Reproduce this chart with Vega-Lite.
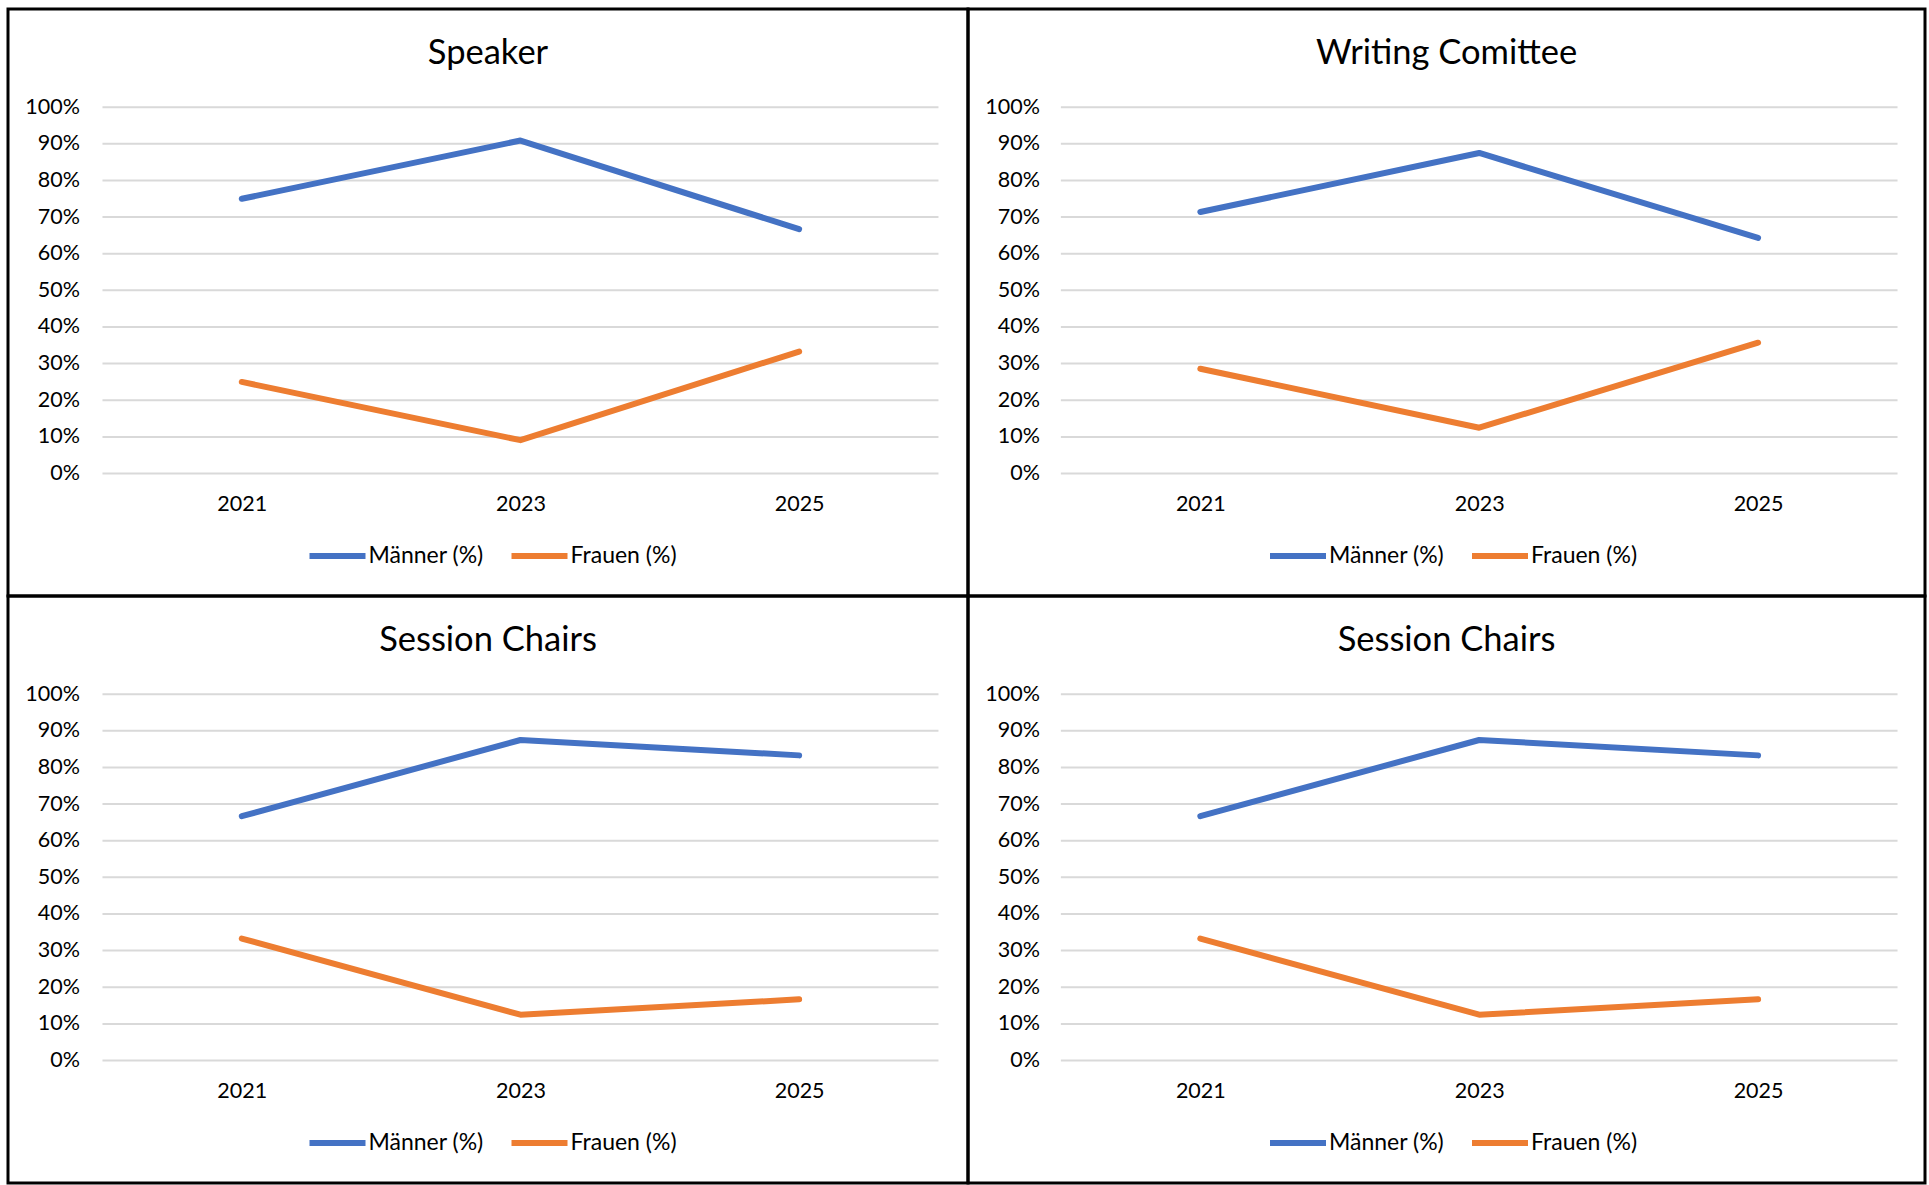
{
  "$schema": "https://vega.github.io/schema/vega-lite/v6.json",
  "background": "white",
  "padding": {"left": 6, "top": 7, "right": 0, "bottom": 0},
  "config": {
    "font": "Lato",
    "view": {"stroke": "black", "strokeWidth": 3},
    "axis": {"labelColor": "black", "labelFontSize": 21.5, "labelFont": "Lato", "domain": false, "ticks": false, "grid": false, "title": null},
    "title": {"frame": "group", "anchor": "middle", "offset": -62, "baseline": "alphabetic", "fontSize": 34.5, "fontWeight": "normal", "color": "black", "font": "Lato"},
    "legend": {"title": null, "orient": "none", "direction": "horizontal", "legendY": 516, "symbolType": "stroke", "symbolSize": 3136, "symbolStrokeWidth": 6, "labelFontSize": 23, "labelColor": "black", "labelOffset": 0, "columnPadding": 24, "labelFont": "Lato"},
    "line": {"strokeWidth": 6, "strokeCap": "round", "strokeJoin": "round"},
    "rule": {"color": "#d9d9d9", "strokeWidth": 2}
  },
  "datasets": {
    "d": [
      {"panel": "A", "year": 2021, "series": "Männer (%)", "value": 0.75},
      {"panel": "A", "year": 2023, "series": "Männer (%)", "value": 0.909},
      {"panel": "A", "year": 2025, "series": "Männer (%)", "value": 0.667},
      {"panel": "A", "year": 2021, "series": "Frauen (%)", "value": 0.25},
      {"panel": "A", "year": 2023, "series": "Frauen (%)", "value": 0.091},
      {"panel": "A", "year": 2025, "series": "Frauen (%)", "value": 0.333},
      {"panel": "B", "year": 2021, "series": "Männer (%)", "value": 0.714},
      {"panel": "B", "year": 2023, "series": "Männer (%)", "value": 0.875},
      {"panel": "B", "year": 2025, "series": "Männer (%)", "value": 0.643},
      {"panel": "B", "year": 2021, "series": "Frauen (%)", "value": 0.286},
      {"panel": "B", "year": 2023, "series": "Frauen (%)", "value": 0.125},
      {"panel": "B", "year": 2025, "series": "Frauen (%)", "value": 0.357},
      {"panel": "C", "year": 2021, "series": "Männer (%)", "value": 0.667},
      {"panel": "C", "year": 2023, "series": "Männer (%)", "value": 0.875},
      {"panel": "C", "year": 2025, "series": "Männer (%)", "value": 0.833},
      {"panel": "C", "year": 2021, "series": "Frauen (%)", "value": 0.333},
      {"panel": "C", "year": 2023, "series": "Frauen (%)", "value": 0.125},
      {"panel": "C", "year": 2025, "series": "Frauen (%)", "value": 0.167},
      {"panel": "D", "year": 2021, "series": "Männer (%)", "value": 0.667},
      {"panel": "D", "year": 2023, "series": "Männer (%)", "value": 0.875},
      {"panel": "D", "year": 2025, "series": "Männer (%)", "value": 0.833},
      {"panel": "D", "year": 2021, "series": "Frauen (%)", "value": 0.333},
      {"panel": "D", "year": 2023, "series": "Frauen (%)", "value": 0.125},
      {"panel": "D", "year": 2025, "series": "Frauen (%)", "value": 0.167}
    ],
    "ticks": [
      {"value": 0}, {"value": 0.1}, {"value": 0.2}, {"value": 0.3}, {"value": 0.4}, {"value": 0.5},
      {"value": 0.6}, {"value": 0.7}, {"value": 0.8}, {"value": 0.9}, {"value": 1}
    ]
  },
  "columns": 2,
  "spacing": 0,
  "bounds": "flush",
  "resolve": {"legend": {"color": "independent"}, "scale": {"color": "independent"}},
  "concat": [
    {
      "width": 960, "height": 587,
      "title": {"text": "Speaker"},
      "layer": [
        {"data": {"name": "ticks"}, "mark": "rule",
         "encoding": {
           "y": {"field": "value", "type": "quantitative", "scale": {"domain": [-0.3344, 1.2681], "nice": false, "zero": false}, "axis": {"orient": "left", "offset": -94.5, "labelPadding": 23, "values": [0,0.1,0.2,0.3,0.4,0.5,0.6,0.7,0.8,0.9,1], "format": ".0%"}},
           "x": {"datum": 2020, "type": "quantitative", "scale": {"domain": [2019.322, 2026.212], "nice": false, "zero": false}, "axis": {"orient": "bottom", "offset": -122.5, "labelPadding": 20, "values": [2021, 2023, 2025], "format": "d"}},
           "x2": {"datum": 2026}
         }},
        {"data": {"name": "d"}, "transform": [{"filter": "datum.panel === 'A'"}],
         "mark": "line",
         "encoding": {
           "x": {"field": "year", "type": "quantitative"},
           "y": {"field": "value", "type": "quantitative"},
           "color": {"field": "series", "type": "nominal", "sort": null, "scale": {"domain": ["Männer (%)", "Frauen (%)"], "range": ["#4472C4", "#ED7D31"]}, "legend": {"legendX": 298.5}}
         }}
      ]
    },
    {
      "width": 957, "height": 587,
      "title": {"text": "Writing Comittee"},
      "layer": [
        {"data": {"name": "ticks"}, "mark": "rule",
         "encoding": {
           "y": {"field": "value", "type": "quantitative", "scale": {"domain": [-0.3344, 1.2681], "nice": false, "zero": false}, "axis": {"orient": "left", "offset": -94.5, "labelPadding": 23, "values": [0,0.1,0.2,0.3,0.4,0.5,0.6,0.7,0.8,0.9,1], "format": ".0%"}},
           "x": {"datum": 2020, "type": "quantitative", "scale": {"domain": [2019.334, 2026.197], "nice": false, "zero": false}, "axis": {"orient": "bottom", "offset": -122.5, "labelPadding": 20, "values": [2021, 2023, 2025], "format": "d"}},
           "x2": {"datum": 2026}
         }},
        {"data": {"name": "d"}, "transform": [{"filter": "datum.panel === 'B'"}],
         "mark": "line",
         "encoding": {
           "x": {"field": "year", "type": "quantitative"},
           "y": {"field": "value", "type": "quantitative"},
           "color": {"field": "series", "type": "nominal", "sort": null, "scale": {"domain": ["Männer (%)", "Frauen (%)"], "range": ["#4472C4", "#ED7D31"]}, "legend": {"legendX": 299}}
         }}
      ]
    },
    {
      "width": 960, "height": 587,
      "title": {"text": "Session Chairs"},
      "layer": [
        {"data": {"name": "ticks"}, "mark": "rule",
         "encoding": {
           "y": {"field": "value", "type": "quantitative", "scale": {"domain": [-0.3344, 1.2681], "nice": false, "zero": false}, "axis": {"orient": "left", "offset": -94.5, "labelPadding": 23, "values": [0,0.1,0.2,0.3,0.4,0.5,0.6,0.7,0.8,0.9,1], "format": ".0%"}},
           "x": {"datum": 2020, "type": "quantitative", "scale": {"domain": [2019.322, 2026.212], "nice": false, "zero": false}, "axis": {"orient": "bottom", "offset": -122.5, "labelPadding": 20, "values": [2021, 2023, 2025], "format": "d"}},
           "x2": {"datum": 2026}
         }},
        {"data": {"name": "d"}, "transform": [{"filter": "datum.panel === 'C'"}],
         "mark": "line",
         "encoding": {
           "x": {"field": "year", "type": "quantitative"},
           "y": {"field": "value", "type": "quantitative"},
           "color": {"field": "series", "type": "nominal", "sort": null, "scale": {"domain": ["Männer (%)", "Frauen (%)"], "range": ["#4472C4", "#ED7D31"]}, "legend": {"legendX": 298.5}}
         }}
      ]
    },
    {
      "width": 957, "height": 587,
      "title": {"text": "Session Chairs"},
      "layer": [
        {"data": {"name": "ticks"}, "mark": "rule",
         "encoding": {
           "y": {"field": "value", "type": "quantitative", "scale": {"domain": [-0.3344, 1.2681], "nice": false, "zero": false}, "axis": {"orient": "left", "offset": -94.5, "labelPadding": 23, "values": [0,0.1,0.2,0.3,0.4,0.5,0.6,0.7,0.8,0.9,1], "format": ".0%"}},
           "x": {"datum": 2020, "type": "quantitative", "scale": {"domain": [2019.334, 2026.197], "nice": false, "zero": false}, "axis": {"orient": "bottom", "offset": -122.5, "labelPadding": 20, "values": [2021, 2023, 2025], "format": "d"}},
           "x2": {"datum": 2026}
         }},
        {"data": {"name": "d"}, "transform": [{"filter": "datum.panel === 'D'"}],
         "mark": "line",
         "encoding": {
           "x": {"field": "year", "type": "quantitative"},
           "y": {"field": "value", "type": "quantitative"},
           "color": {"field": "series", "type": "nominal", "sort": null, "scale": {"domain": ["Männer (%)", "Frauen (%)"], "range": ["#4472C4", "#ED7D31"]}, "legend": {"legendX": 299}}
         }}
      ]
    }
  ]
}
